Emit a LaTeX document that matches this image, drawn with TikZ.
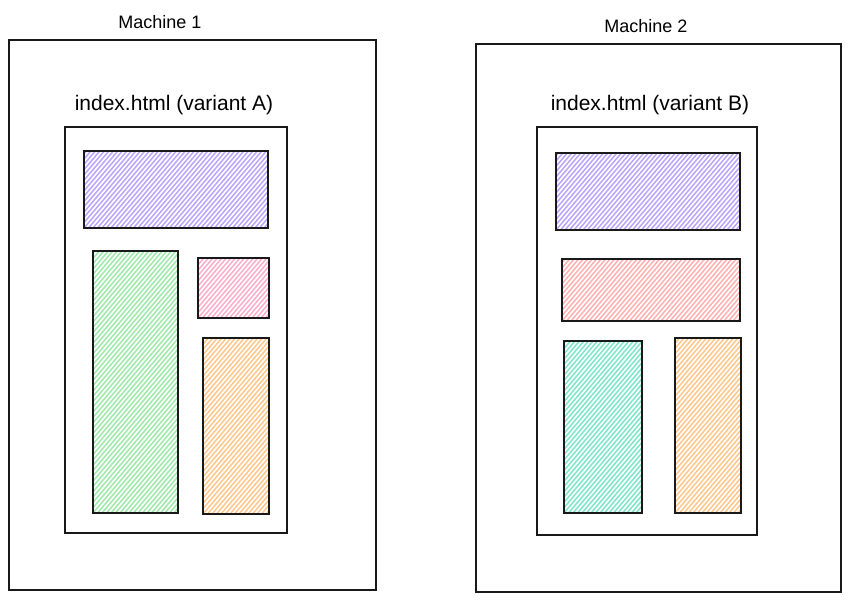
\documentclass[tikz,border=0pt]{standalone}
\usepackage{fontspec}
\setmainfont{Liberation Sans}
\definecolor{cpurple}{HTML}{9775FA}
\definecolor{cgreen}{HTML}{69DB7C}
\definecolor{cteal}{HTML}{38D9A9}
\definecolor{cpink}{HTML}{F783AC}
\definecolor{cred}{HTML}{FF8787}
\definecolor{corange}{HTML}{FFA94D}
\begin{document}
\begin{tikzpicture}[x=1pt,y=-1pt,
  frame/.style={draw=black!90, line width=1.3pt, inner sep=0pt, outer sep=0pt, anchor=north west},
  hatch/.style={frame, path picture={
      \foreach \i in {-70,...,50}
        \draw[#1!65, line width=1.5pt]
          ([xshift=\i*4.5pt]path picture bounding box.south west) -- ++(280pt,330pt);
    }},
  title/.style={font=\fontsize{18}{21}\selectfont, inner sep=0pt},
  subtitle/.style={font=\fontsize{21}{24}\selectfont, inner sep=0pt}]
\useasboundingbox (0,0) rectangle (851,603);
% Machine 1
\node[frame, minimum width=367pt, minimum height=550pt] (m1) at (9,40) {};
\node[title] (t1) at (160,22) {Machine 1};
\node[frame, minimum width=222pt, minimum height=406pt] (p1) at (65,127) {};
\node[subtitle] (h1) at (174,105) {index.html (variant A)};
\node[hatch=cpurple, minimum width=184pt, minimum height=77pt] (a1) at (84,151) {};
\node[hatch=cgreen, minimum width=85pt, minimum height=262pt] (a2) at (93,251) {};
\node[hatch=cpink, minimum width=71pt, minimum height=60pt] (a3) at (198,258) {};
\node[hatch=corange, minimum width=66pt, minimum height=176pt] (a4) at (203,338) {};
% Machine 2
\node[frame, minimum width=365pt, minimum height=548pt] (m2) at (476,44) {};
\node[title] (t2) at (646,26) {Machine 2};
\node[frame, minimum width=220pt, minimum height=408pt] (p2) at (537,127) {};
\node[subtitle] (h2) at (650,105) {index.html (variant B)};
\node[hatch=cpurple, minimum width=184pt, minimum height=77pt] (b1) at (556,153) {};
\node[hatch=cred, minimum width=178pt, minimum height=62pt] (b2) at (562,259) {};
\node[hatch=cteal, minimum width=78pt, minimum height=172pt] (b3) at (564,341) {};
\node[hatch=corange, minimum width=66pt, minimum height=175pt] (b4) at (675,338) {};
\end{tikzpicture}
\end{document}
